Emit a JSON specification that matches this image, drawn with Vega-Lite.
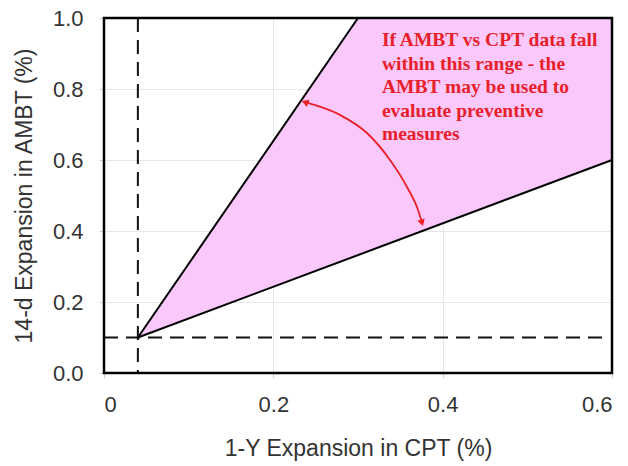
{
  "$schema": "https://vega.github.io/schema/vega-lite/v6.json",
  "width": 508,
  "height": 355,
  "autosize": {"type": "none"},
  "padding": {"left": 104, "top": 18, "right": 16, "bottom": 93},
  "background": "white",
  "config": {
    "view": {"stroke": null},
    "axis": {
      "domain": false,
      "gridColor": "#e6e6e6",
      "gridWidth": 1,
      "tickColor": "#d0d0d0",
      "tickSize": 5,
      "labelFont": "Liberation Sans",
      "labelFontSize": 22,
      "labelColor": "#333333",
      "titleFont": "Liberation Sans",
      "titleFontSize": 23,
      "titleFontWeight": "normal",
      "titleColor": "#333333"
    }
  },
  "datasets": {
    "region": [
      {"x": 0.04, "lo": 0.1, "hi": 0.1},
      {"x": 0.3, "lo": 0.332, "hi": 1.0},
      {"x": 0.6, "lo": 0.6, "hi": 1.0}
    ],
    "bounds": [
      {"line": "upper", "x": 0.04, "y": 0.1},
      {"line": "upper", "x": 0.3, "y": 1.0},
      {"line": "lower", "x": 0.04, "y": 0.1},
      {"line": "lower", "x": 0.6, "y": 0.6}
    ],
    "frame": [
      {"x": 0, "y": 0},
      {"x": 0, "y": 1},
      {"x": 0.6, "y": 1},
      {"x": 0.6, "y": 0},
      {"x": 0, "y": 0}
    ],
    "arc": [
      {"x": 0.2374, "y": 0.763},
      {"x": 0.2787, "y": 0.727},
      {"x": 0.3106, "y": 0.676},
      {"x": 0.3378, "y": 0.6},
      {"x": 0.3579, "y": 0.524},
      {"x": 0.3709, "y": 0.459},
      {"x": 0.3756, "y": 0.423}
    ]
  },
  "layer": [
    {
      "data": {"name": "region"},
      "mark": {"type": "area", "color": "#fbc8fb", "opacity": 1},
      "encoding": {
        "x": {
          "field": "x", "type": "quantitative",
          "scale": {"domain": [0, 0.6], "nice": false},
          "axis": {
            "values": [0, 0.2, 0.4, 0.6],
            "labelExpr": "datum.value == 0 ? '0' : format(datum.value, '.1f')",
            "labelPadding": 16,
            "titlePadding": 22,
            "title": "1-Y Expansion in CPT (%)"
          }
        },
        "y": {
          "field": "lo", "type": "quantitative",
          "scale": {"domain": [0, 1], "nice": false},
          "axis": {
            "values": [0, 0.2, 0.4, 0.6, 0.8, 1.0],
            "format": ".1f",
            "labelPadding": 16,
            "titlePadding": 16,
            "title": "14-d Expansion in AMBT (%)"
          }
        },
        "y2": {"field": "hi"}
      }
    },
    {
      "data": {"name": "bounds"},
      "mark": {"type": "line", "color": "black", "strokeWidth": 2},
      "encoding": {
        "x": {"field": "x", "type": "quantitative"},
        "y": {"field": "y", "type": "quantitative"},
        "detail": {"field": "line"}
      }
    },
    {
      "data": {"values": [{}]},
      "mark": {"type": "rule", "color": "#111111", "strokeWidth": 2, "strokeDash": [14, 8]},
      "encoding": {"x": {"datum": 0.04}}
    },
    {
      "data": {"values": [{}]},
      "mark": {"type": "rule", "color": "#111111", "strokeWidth": 2, "strokeDash": [14, 8]},
      "encoding": {"y": {"datum": 0.1}, "x": {"datum": 0}, "x2": {"datum": 0.592}}
    },
    {
      "data": {"name": "arc"},
      "mark": {"type": "line", "color": "#e8202a", "strokeWidth": 1.8, "interpolate": "monotone"},
      "encoding": {
        "x": {"field": "x", "type": "quantitative"},
        "y": {"field": "y", "type": "quantitative"}
      }
    },
    {
      "data": {"values": [{}]},
      "mark": {"type": "point", "shape": "triangle-up", "filled": true, "color": "#e8202a", "size": 60, "angle": 290, "opacity": 1},
      "encoding": {"x": {"datum": 0.2374}, "y": {"datum": 0.763}}
    },
    {
      "data": {"values": [{}]},
      "mark": {"type": "point", "shape": "triangle-up", "filled": true, "color": "#e8202a", "size": 60, "angle": 163, "opacity": 1},
      "encoding": {"x": {"datum": 0.3756}, "y": {"datum": 0.423}}
    },
    {
      "data": {"values": [{}]},
      "mark": {
        "type": "text",
        "text": ["If AMBT vs CPT data fall", "within this range - the", "AMBT may be used to", "evaluate preventive", "measures"],
        "font": "Liberation Serif",
        "fontWeight": "bold",
        "fontSize": 19.5,
        "lineHeight": 23.5,
        "color": "#e8202a",
        "align": "left",
        "baseline": "middle"
      },
      "encoding": {"x": {"datum": 0.3283}, "y": {"datum": 0.938}}
    },
    {
      "data": {"name": "frame"},
      "mark": {"type": "line", "color": "black", "strokeWidth": 2.5, "strokeCap": "square", "clip": false},
      "encoding": {
        "x": {"field": "x", "type": "quantitative"},
        "y": {"field": "y", "type": "quantitative"},
        "order": {"value": null}
      }
    }
  ]
}
